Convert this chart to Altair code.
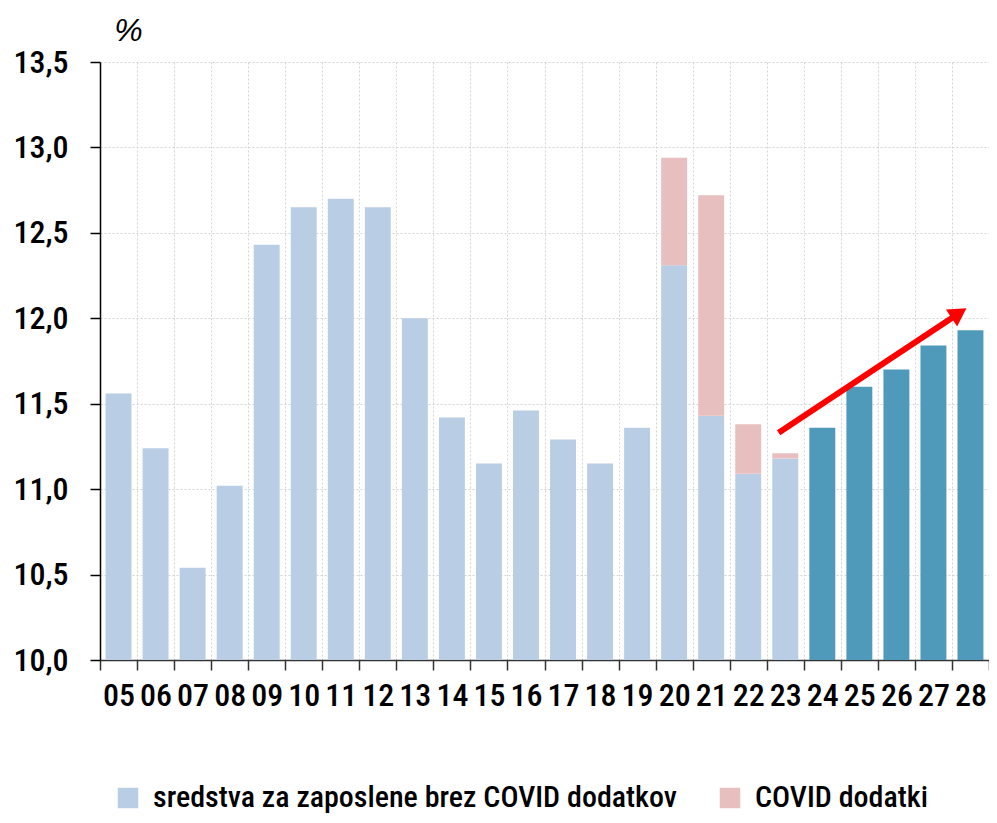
import altair as alt
import pandas as pd

years = ["05", "06", "07", "08", "09", "10", "11", "12", "13", "14", "15", "16",
         "17", "18", "19", "20", "21", "22", "23", "24", "25", "26", "27", "28"]
hist_years = years[:19]
base_vals = [11.56, 11.24, 10.54, 11.02, 12.43, 12.65, 12.70, 12.65, 12.00, 11.42,
             11.15, 11.46, 11.29, 11.15, 11.36, 12.31, 11.43, 11.09, 11.18]
covid_years = ["20", "21", "22", "23"]
covid_vals = [0.63, 1.29, 0.29, 0.03]
proj_years = ["24", "25", "26", "27", "28"]
proj_vals = [11.36, 11.60, 11.70, 11.84, 11.93]

S_BASE = "sredstva za zaposlene brez COVID dodatkov"
S_COVID = "COVID dodatki"
S_PROJ = "napoved"

# arrow in band units (band i spans [i, i+1])
arrow_start = [18.32, 11.33]
arrow_end = [23.19, 12.03]

rows = []
for y, v in zip(hist_years, base_vals):
    rows.append({"year": y, "series": S_BASE, "value": v, "ord": 0})
for y, v in zip(covid_years, covid_vals):
    rows.append({"year": y, "series": S_COVID, "value": v, "ord": 1})
for y, v in zip(proj_years, proj_vals):
    rows.append({"year": y, "series": S_PROJ, "value": v, "ord": 0})
df = pd.DataFrame(rows)

FONT = "Roboto Condensed"
FS = 32
FW = 500

yscale = alt.Scale(domain=[10, 13.5], zero=False, nice=False)
yaxis = alt.Axis(
    values=[10, 10.5, 11, 11.5, 12, 12.5, 13, 13.5],
    labelExpr="replace(format(datum.value, '.1f'), '.', ',')",
    title="%", titleAngle=0, titleX=28, titleY=-22, titleAlign="center",
    titleBaseline="alphabetic", titleFontStyle="italic", titleFontWeight="normal",
    titleFont="Liberation Sans", titleFontSize=32, titleColor="black",
    labelFont=FONT, labelFontSize=FS, labelFontWeight=FW, labelColor="black", labelPadding=22,
    tickSize=10, tickColor="black", tickWidth=1.5,
    domainColor="black", domainWidth=1.5,
    grid=True, gridColor="#d4d4d4", gridDash=[2, 2], gridWidth=1,
)

bars = alt.Chart(df).mark_bar(clip=True, width=alt.RelativeBandSize(0.7)).encode(
    x=alt.X("year:O", sort=years,
            scale=alt.Scale(domain=years, paddingInner=0, paddingOuter=0),
            axis=alt.Axis(title=None, labelAngle=0, labelFont=FONT, labelFontSize=FS,
                          labelFontWeight=FW, labelColor="black", labelPadding=10,
                          tickBand="extent", tickSize=10, tickColor="#333333", tickWidth=1.5,
                          domainColor="#333333", domainWidth=1.5,
                          grid=True, gridColor="#d4d4d4", gridDash=[2, 2], gridWidth=1)),
    y=alt.Y("value:Q", stack="zero", scale=yscale, axis=yaxis),
    color=alt.Color("series:N",
                    scale=alt.Scale(domain=[S_BASE, S_COVID, S_PROJ],
                                    range=["#b9cde4", "#e8bfbf", "#4f99bb"]),
                    legend=alt.Legend(values=[S_BASE, S_COVID], title=None,
                                      orient="none", direction="horizontal",
                                      legendX=13, legendY=721,
                                      labelFont=FONT, labelFontSize=30, labelFontWeight=FW,
                                      labelColor="black",
                                      labelLimit=2000, labelOffset=10, columnPadding=38,
                                      symbolType="square",
                                      symbolSize=420, symbolStrokeWidth=0, padding=0)),
    order=alt.Order("ord:Q"),
)

arrow_df = pd.DataFrame({"x": [arrow_start[0]], "y": [arrow_start[1]],
                         "x2": [arrow_end[0]], "y2": [arrow_end[1]]})
head_df = pd.DataFrame({"x": [arrow_end[0]], "y": [arrow_end[1]]})
xq = alt.Scale(domain=[0, 24], nice=False, zero=False)

line = alt.Chart(arrow_df).mark_rule(color="#ff0000", strokeWidth=6, strokeCap="butt").encode(
    x=alt.X("x:Q", scale=xq, axis=None),
    x2="x2:Q",
    y=alt.Y("y:Q", scale=yscale, axis=yaxis),
    y2="y2:Q",
)
head = alt.Chart(head_df).mark_point(shape="triangle-up", filled=True, size=420, angle=57,
                                     color="#ff0000", opacity=1).encode(
    x=alt.X("x:Q", scale=xq, axis=None),
    y=alt.Y("y:Q", scale=yscale, axis=yaxis),
)

chart = alt.layer(bars, line, head).resolve_scale(x="independent").properties(
    width=889, height=598,
    autosize=alt.AutoSizeParams(type="none"),
    padding={"left": 92, "top": 54, "right": 0, "bottom": 155},
).configure_view(stroke=None)

chart.save("out.html", embed_options={"renderer": "svg", "actions": False})
